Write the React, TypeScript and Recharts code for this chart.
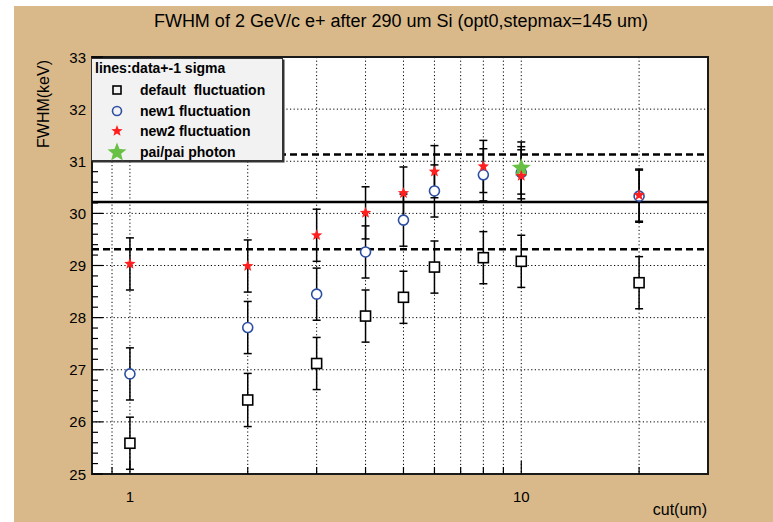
import React from "react";
import {
  ScatterChart,
  Scatter,
  XAxis,
  YAxis,
  CartesianGrid,
  ReferenceLine,
  ReferenceArea,
  ErrorBar,
} from "recharts";

// ---- data ----
const cuts = [1, 2, 3, 4, 5, 6, 8, 10, 20];
const defaultFwhm = [25.59, 26.42, 27.12, 28.03, 28.39, 28.97, 29.15, 29.08, 28.67];
const defaultErr = [0.5, 0.51, 0.5, 0.5, 0.5, 0.5, 0.5, 0.5, 0.5];
const new1Fwhm = [26.92, 27.81, 28.45, 29.26, 29.87, 30.43, 30.74, 30.78, 30.33];
const new1Err = [0.5, 0.5, 0.5, 0.5, 0.5, 0.5, 0.5, 0.5, 0.5];
const new2Fwhm = [29.03, 28.99, 29.58, 30.01, 30.39, 30.8, 30.9, 30.72, 30.35];
const new2Err = [0.5, 0.5, 0.5, 0.5, 0.5, 0.5, 0.5, 0.5, 0.5];
const paiCuts = [10];
const paiFwhm = [30.87];
const paiErr = [0.5];

const meanLine = 30.22;
const lowerSigma = 29.31;
const upperSigma = 31.13;

const xTicks = [0.9, 1, 2, 3, 4, 5, 6, 7, 8, 9, 10, 20];
const xLabelled = [1, 10];
const yMajor = [25, 26, 27, 28, 29, 30, 31, 32, 33];
const yTicks = Array.from({ length: 41 }, (_, i) => Math.round((25 + i * 0.2) * 10) / 10);
const yGrid = [26, 27, 28, 29, 30, 31, 32];

const title = "FWHM of 2 GeV/c e+ after 290 um Si (opt0,stepmax=145 um)";
const legendHeader = "lines:data+-1 sigma";
const legendNames = ["default  fluctuation", "new1 fluctuation", "new2 fluctuation", "pai/pai photon"];

const build = (xs: number[], ys: number[], es: number[]) =>
  xs.map((x, i) => ({ x, y: ys[i], err: es[i] }));

const defaultData = build(cuts, defaultFwhm, defaultErr);
const new1Data = build(cuts, new1Fwhm, new1Err);
const new2Data = build(cuts, new2Fwhm, new2Err);
const paiData = build(paiCuts, paiFwhm, paiErr);

const FONT = "'Liberation Sans', Arial, Helvetica, sans-serif";
const BLUE = "#2c4ea3";
const RED = "#ff1f1f";
const GREEN = "#68c045";

const starPoints = (cx: number, cy: number, R: number, r: number) => {
  const pts: string[] = [];
  for (let i = 0; i < 10; i++) {
    const rad = i % 2 === 0 ? R : r;
    const a = -Math.PI / 2 + (i * Math.PI) / 5;
    pts.push(`${cx + rad * Math.cos(a)},${cy + rad * Math.sin(a)}`);
  }
  return pts.join(" ");
};

const SquareShape = (p: any) => (
  <rect x={p.cx - 5} y={p.cy - 5} width={10} height={10} fill="#fff" stroke="#000" strokeWidth={1.6} />
);
const CircleShape = (p: any) => (
  <circle cx={p.cx} cy={p.cy} r={5} fill="#fff" stroke={BLUE} strokeWidth={1.6} />
);
const RedStar = (p: any) => <polygon points={starPoints(p.cx, p.cy, 6, 2.6)} fill={RED} />;
const GreenStar = (p: any) => <polygon points={starPoints(p.cx, p.cy, 10, 4.3)} fill={GREEN} />;

const XTick = (props: any) => {
  const { x, y, payload } = props;
  const v = payload.value;
  const major = xLabelled.includes(v);
  return (
    <g>
      <line x1={x} x2={x} y1={y} y2={y - (major ? 13 : 7)} stroke="#000" strokeWidth={1.2} />
      {major && (
        <text x={x} y={y + 22} textAnchor="middle" dominantBaseline="central" fontFamily={FONT} fontSize={15} fill="#000">
          {v}
        </text>
      )}
    </g>
  );
};

const YTick = (props: any) => {
  const { x, y, payload } = props;
  const v = payload.value;
  const major = yMajor.includes(v);
  return (
    <g>
      <line x1={x} x2={x + (major ? 11 : 6)} y1={y} y2={y} stroke="#000" strokeWidth={1.2} />
      {major && (
        <text x={x - 6} y={y} textAnchor="end" dominantBaseline="central" fontFamily={FONT} fontSize={15} fill="#000">
          {v}
        </text>
      )}
    </g>
  );
};

const LegendMarker = ({ kind }: { kind: number }) => (
  <svg width={24} height={20} style={{ display: "block" }}>
    {kind === 0 && <rect x={8} y={6} width={8} height={8} fill="none" stroke="#000" strokeWidth={1.6} />}
    {kind === 1 && <circle cx={12} cy={10} r={4.5} fill="none" stroke={BLUE} strokeWidth={1.6} />}
    {kind === 2 && <polygon points={starPoints(12, 10, 6, 2.6)} fill={RED} />}
    {kind === 3 && <polygon points={starPoints(12, 10.5, 10, 4.3)} fill={GREEN} />}
  </svg>
);

export default function App() {
  return (
    <div style={{ position: "absolute", left: 0, top: 0, width: 773, height: 522, background: "#fff", overflow: "hidden" }}>
      <div style={{ position: "absolute", left: 14, top: 6, width: 759, height: 516, background: "#d9b98a" }} />
      <div style={{ position: "absolute", left: 0, top: 0 }}>
        <ScatterChart width={773} height={522} margin={{ top: 57, right: 65, bottom: 47, left: 91 }}>
          <CartesianGrid
            fill="#fff"
            stroke="#000"
            strokeDasharray="1.2 2.4"
            strokeWidth={1}
            horizontalValues={yGrid}
            verticalValues={xTicks}
          />
          <XAxis
            type="number"
            dataKey="x"
            scale="log"
            domain={[0.8, 30]}
            allowDataOverflow
            ticks={xTicks}
            interval={0}
            height={1}
            tickSize={0}
            tickMargin={0}
            axisLine={false}
            tickLine={false}
            tick={(p: any) => <XTick {...p} />}
          />
          <YAxis
            type="number"
            dataKey="y"
            domain={[25, 33]}
            allowDataOverflow
            ticks={yTicks}
            interval={0}
            width={1}
            tickSize={0}
            tickMargin={0}
            axisLine={false}
            tickLine={false}
            tick={(p: any) => <YTick {...p} />}
          />
          <ReferenceLine y={meanLine} stroke="#000" strokeWidth={2.5} />
          <ReferenceLine y={lowerSigma} stroke="#000" strokeWidth={2.5} strokeDasharray="7 4" />
          <ReferenceLine y={upperSigma} stroke="#000" strokeWidth={2.5} strokeDasharray="7 4" />
          <Scatter data={defaultData} shape={SquareShape} isAnimationActive={false}>
            <ErrorBar dataKey="err" direction="y" width={4} stroke="#000" strokeWidth={1.5} isAnimationActive={false} />
          </Scatter>
          <Scatter data={new1Data} shape={CircleShape} isAnimationActive={false}>
            <ErrorBar dataKey="err" direction="y" width={4} stroke="#000" strokeWidth={1.5} isAnimationActive={false} />
          </Scatter>
          <Scatter data={paiData} shape={GreenStar} isAnimationActive={false}>
            <ErrorBar dataKey="err" direction="y" width={4} stroke="#000" strokeWidth={1.5} isAnimationActive={false} />
          </Scatter>
          <Scatter data={new2Data} shape={RedStar} isAnimationActive={false}>
            <ErrorBar dataKey="err" direction="y" width={4} stroke="#000" strokeWidth={1.5} isAnimationActive={false} />
          </Scatter>
          <ReferenceArea x1={0.8} x2={30} y1={25} y2={33} fill="none" stroke="#1a1a1a" strokeWidth={2} ifOverflow="visible" />
        </ScatterChart>
      </div>
      {/* title */}
      <div style={{ position: "absolute", left: 0, width: 802, top: 11, textAlign: "center", fontFamily: FONT, fontSize: 18, lineHeight: "20px", color: "#000", whiteSpace: "nowrap" }}>
        {title}
      </div>
      {/* y label */}
      <div style={{ position: "absolute", left: 44, top: 104, width: 0, height: 0 }}>
        <div style={{ position: "absolute", transform: "translate(-50%, -50%) rotate(-90deg)", fontFamily: FONT, fontSize: 16, lineHeight: "18px", whiteSpace: "nowrap", color: "#000" }}>
          FWHM(keV)
        </div>
      </div>
      {/* x label */}
      <div style={{ position: "absolute", right: 773 - 707, top: 501, fontFamily: FONT, fontSize: 16, lineHeight: "18px", whiteSpace: "nowrap", color: "#000" }}>
        cut(um)
      </div>
      {/* legend */}
      <div style={{ position: "absolute", left: 91, top: 58, width: 190, height: 101, background: "#f2f2f2", border: "1px solid #333", boxShadow: "1.5px 1.5px 0 #333", fontFamily: FONT, fontWeight: "bold", fontSize: 14, color: "#000" }}>
        <div style={{ position: "absolute", left: 3, top: 0, lineHeight: "18px", whiteSpace: "pre" }}>{legendHeader}</div>
        {legendNames.map((n, i) => (
          <div key={n} style={{ position: "absolute", left: 0, top: [21, 42, 62, 83][i], height: 20, display: "flex", alignItems: "center" }}>
            <div style={{ position: "absolute", left: 13, top: 0 }}>
              <LegendMarker kind={i} />
            </div>
            <div style={{ position: "absolute", left: 48, top: 1, lineHeight: "18px", whiteSpace: "pre" }}>{n}</div>
          </div>
        ))}
      </div>
    </div>
  );
}
